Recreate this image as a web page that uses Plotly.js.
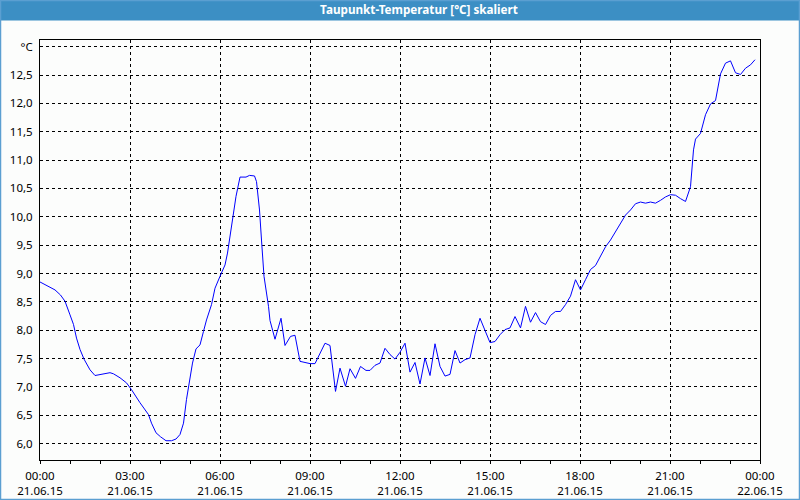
<!DOCTYPE html>
<html>
<head>
<meta charset="utf-8">
<script src="https://cdn.plot.ly/plotly-3.0.1.min.js"></script>
<style>
html,body{margin:0;padding:0;background:#fcfdfc;}
#chart{width:800px;height:500px;}
</style>
</head>
<body>
<div id="chart"></div>
<script>
// ---- data ----
var times = ["00:00","00:13","00:30","00:41","00:50","01:00","01:07","01:13","01:20","01:28","01:40","01:50","02:03","02:20","02:27","02:40","02:53","03:03","03:20","03:37","03:43","03:52","04:01","04:12","04:23","04:32","04:40","04:47","04:53","04:59","05:05","05:12","05:20","05:27","05:33","05:43","05:50","06:00","06:10","06:15","06:20","06:25","06:32","06:40","06:52","06:59","07:09","07:13","07:19","07:23","07:28","07:37","07:40","07:50","08:02","08:10","08:21","08:30","08:40","08:50","09:00","09:10","09:20","09:30","09:40","09:45","09:51","10:00","10:11","10:20","10:31","10:41","10:52","11:00","11:10","11:20","11:30","11:40","11:50","12:00","12:10","12:20","12:30","12:40","12:50","13:00","13:10","13:20","13:30","13:40","13:50","14:00","14:10","14:20","14:30","14:40","14:50","15:00","15:10","15:20","15:30","15:40","15:50","16:01","16:11","16:21","16:31","16:41","16:51","17:01","17:11","17:21","17:31","17:41","17:51","18:01","18:11","18:21","18:31","18:41","18:51","19:01","19:11","19:21","19:31","19:41","19:51","20:01","20:11","20:21","20:31","20:41","20:51","21:01","21:11","21:21","21:31","21:41","21:47","21:51","22:01","22:11","22:21","22:31","22:41","22:51","23:01","23:11","23:21","23:31","23:41","23:50"];
var dewPoint = [8.85,8.79,8.71,8.62,8.51,8.27,8.10,7.86,7.66,7.49,7.30,7.20,7.22,7.25,7.23,7.16,7.07,6.95,6.72,6.51,6.36,6.19,6.12,6.05,6.05,6.08,6.16,6.36,6.78,7.07,7.42,7.67,7.74,7.98,8.18,8.45,8.74,8.95,9.15,9.36,9.65,9.95,10.36,10.70,10.70,10.73,10.72,10.62,10.12,9.59,8.95,8.42,8.17,7.84,8.21,7.73,7.89,7.91,7.45,7.43,7.41,7.41,7.60,7.77,7.73,7.33,6.92,7.33,7.01,7.32,7.15,7.36,7.29,7.29,7.38,7.42,7.68,7.57,7.49,7.61,7.77,7.26,7.43,7.05,7.51,7.20,7.76,7.36,7.19,7.22,7.64,7.42,7.48,7.51,7.92,8.21,7.99,7.78,7.80,7.92,8.01,8.04,8.24,8.04,8.42,8.14,8.31,8.15,8.10,8.26,8.33,8.33,8.45,8.60,8.89,8.71,8.89,9.07,9.14,9.30,9.47,9.59,9.74,9.90,10.03,10.12,10.23,10.26,10.24,10.26,10.24,10.29,10.35,10.39,10.38,10.32,10.27,10.53,11.18,11.37,11.47,11.80,11.99,12.05,12.52,12.71,12.75,12.54,12.51,12.62,12.68,12.77];
var dayDate = "2015-06-21";

var xTickVals = ["2015-06-21 00:00","2015-06-21 03:00","2015-06-21 06:00","2015-06-21 09:00","2015-06-21 12:00","2015-06-21 15:00","2015-06-21 18:00","2015-06-21 21:00","2015-06-22 00:00"];
var xTickTimes = ["00:00","03:00","06:00","09:00","12:00","15:00","18:00","21:00","00:00"];
var xTickDates = ["21.06.15","21.06.15","21.06.15","21.06.15","21.06.15","21.06.15","21.06.15","21.06.15","22.06.15"];

var yTickVals = [6.0,6.5,7.0,7.5,8.0,8.5,9.0,9.5,10.0,10.5,11.0,11.5,12.0,12.5,13.0];
var yTickText = ["6,0","6,5","7,0","7,5","8,0","8,5","9,0","9,5","10,0","10,5","11,0","11,5","12,0","12,5","°C"];

var titleText = "Taupunkt-Temperatur [°C] skaliert";

// ---- build ----
var W = 800, H = 500, mL = 40, mR = 40, mT = 40, mB = 40;
var pw = W - mL - mR, ph = H - mT - mB;
function px2x(px){ return (px - mL) / pw; }
function py2y(py){ return (H - mB - py) / ph; }

var xs = times.map(function(t){ return dayDate + " " + t; });
var xTickText = xTickTimes.map(function(t,i){ return t + "<br>" + xTickDates[i]; });

var trace = {
  x: xs, y: dewPoint, type: "scatter", mode: "lines",
  line: {color: "#0000ff", width: 1}, hoverinfo: "skip"
};

var fontFam = "Noto Sans, Liberation Sans, sans-serif";

var layout = {
  width: W, height: H,
  margin: {l: mL, r: mR, t: mT, b: mB, pad: 0},
  paper_bgcolor: "#fcfdfc", plot_bgcolor: "#fcfdfc",
  showlegend: false,
  font: {family: fontFam, size: 11, color: "#000"},
  title: {
    text: "<b>" + titleText + "</b>",
    font: {family: fontFam, size: 11.7, color: "#ffffff"},
    xref: "container", yref: "container",
    x: 419/800, xanchor: "center", y: 1 - 10/500, yanchor: "middle"
  },
  xaxis: {
    type: "date",
    range: ["2015-06-21 00:00", "2015-06-22 00:00"],
    tickmode: "array", tickvals: xTickVals, ticktext: xTickText,
    ticks: "outside", ticklen: 3, tickcolor: "#000", tickwidth: 1,
    ticklabelstandoff: 2,
    minor: {dtick: 3600000, ticks: "outside", ticklen: 3, tickcolor: "#000", showgrid: false},
    showgrid: true, gridcolor: "#000", gridwidth: 1, griddash: "3px,3px",
    showline: true, linecolor: "#000", linewidth: 1, mirror: true,
    zeroline: false, fixedrange: true,
    tickfont: {family: fontFam, size: 11.5, color: "#000"}
  },
  yaxis: {
    range: [5.71, 13.118],
    tickmode: "array", tickvals: yTickVals, ticktext: yTickText,
    ticks: "", ticklabelstandoff: 4,
    showgrid: true, gridcolor: "#000", gridwidth: 1, griddash: "3px,3px",
    showline: true, linecolor: "#000", linewidth: 1, mirror: true,
    zeroline: false, fixedrange: true,
    tickfont: {family: fontFam, size: 11.5, color: "#000"}
  },
  shapes: [
    {type: "rect", xref: "paper", yref: "paper", layer: "below",
     x0: px2x(0), x1: px2x(W), y0: py2y(20.5), y1: py2y(0),
     fillcolor: "#3c8fc4", line: {width: 0}},
    {type: "rect", xref: "paper", yref: "paper", layer: "above",
     x0: px2x(0.5), x1: px2x(W - 0.5), y0: py2y(H - 0.5), y1: py2y(0.5),
     fillcolor: "rgba(0,0,0,0)", line: {color: "#5b9fd1", width: 1.5}}
  ]
};

Plotly.newPlot("chart", [trace], layout, {staticPlot: true, displayModeBar: false});
</script>
</body>
</html>
